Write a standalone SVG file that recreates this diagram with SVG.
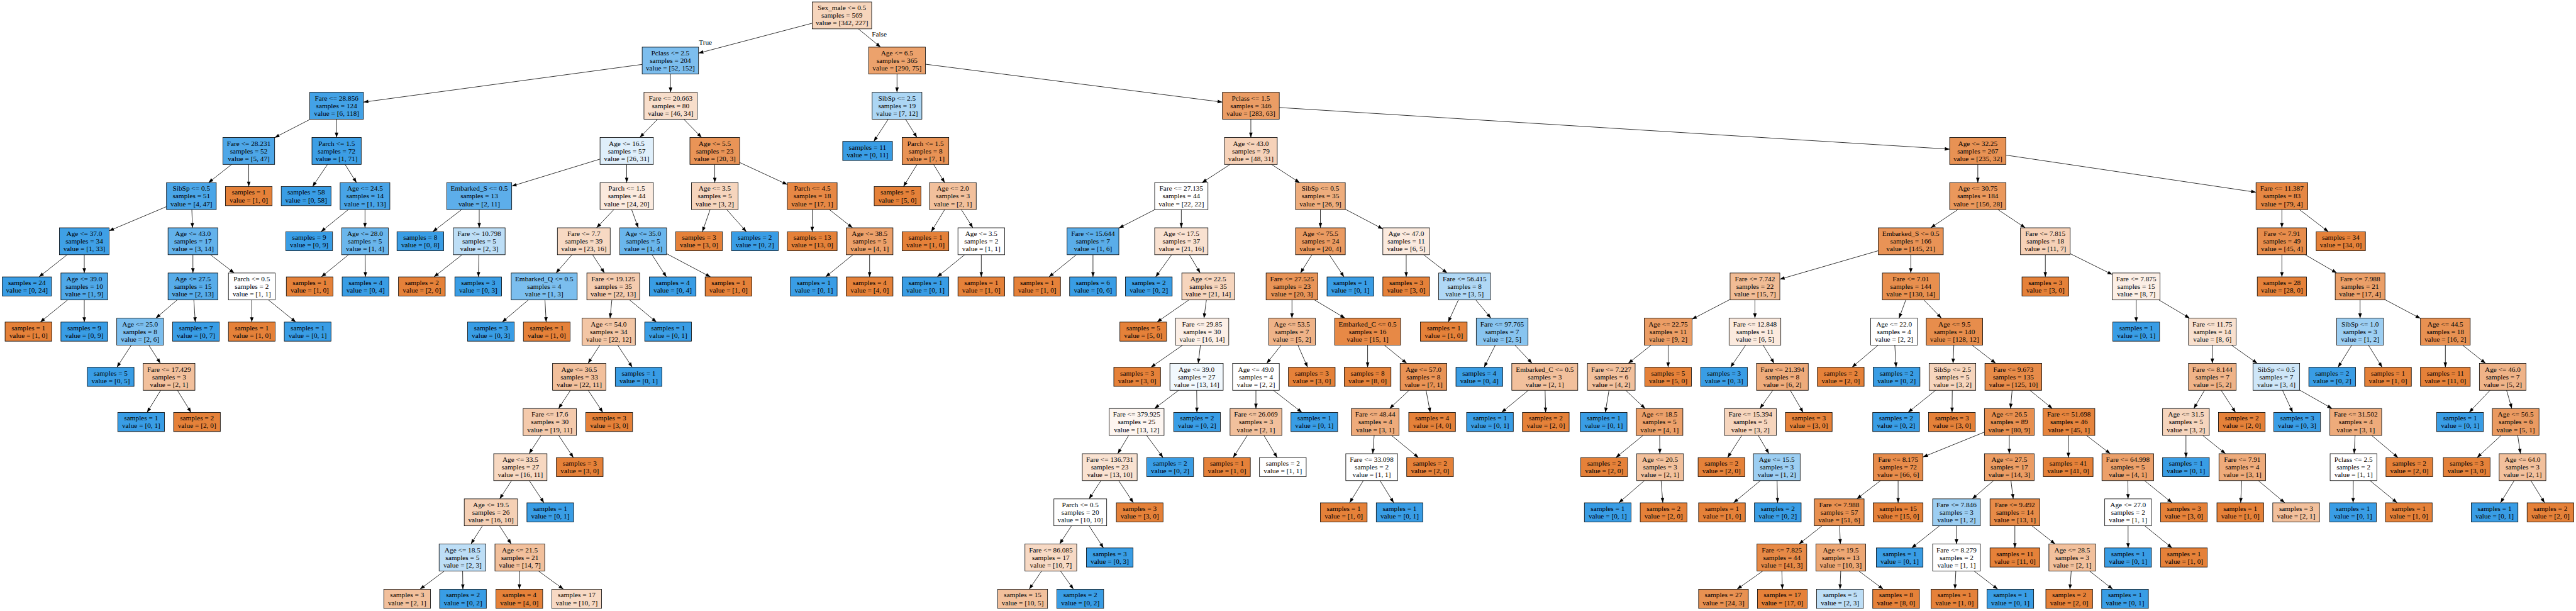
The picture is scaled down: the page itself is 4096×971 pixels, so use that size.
<svg xmlns="http://www.w3.org/2000/svg" width="4096" height="971" viewBox="0 0 4096 971">
<defs>
<marker id="ah" markerUnits="userSpaceOnUse" markerWidth="10" markerHeight="8" refX="9.5" refY="3.5" orient="auto" overflow="visible"><path d="M0,0 L9.5,3.5 L0,7 z" fill="#000"/></marker>
<style>
.nd rect{stroke:#000;stroke-width:1}
text{font-family:"Liberation Serif","Times New Roman",serif;font-size:14px;text-anchor:middle;fill:#000}
.o{fill:#e58139}.b{fill:#399de5}.w{fill:#ffffff}
#edges line{stroke:#000;stroke-width:1;marker-end:url(#ah)}
</style>
</defs>
<rect width="4096" height="971" fill="#fff"/>
<g transform="scale(0.8072)">
<g id="edges">
<line x1="1600" y1="45.7" x2="1376" y2="104.7"/>
<line x1="1690.8" y1="56.8" x2="1734.7" y2="92.8"/>
<line x1="1265" y1="126.8" x2="716" y2="201.1"/>
<line x1="1320.6" y1="145.8" x2="1321" y2="181.7"/>
<line x1="1767" y1="145.8" x2="1767" y2="181.7"/>
<line x1="1823" y1="126.4" x2="2408" y2="201.1"/>
<line x1="611.4" y1="234.7" x2="541" y2="270.9"/>
<line x1="663" y1="234.7" x2="663" y2="270.7"/>
<line x1="1295.2" y1="234.7" x2="1260.3" y2="270.7"/>
<line x1="1346.9" y1="234.7" x2="1382.1" y2="270.7"/>
<line x1="1749.7" y1="234.7" x2="1721.3" y2="278.4"/>
<line x1="1783.7" y1="234.7" x2="1806.3" y2="270.7"/>
<line x1="2464" y1="234.7" x2="2464" y2="270.7"/>
<line x1="2520" y1="211.7" x2="3840.5" y2="293.7"/>
<line x1="456.3" y1="323.7" x2="410.7" y2="359.6"/>
<line x1="490" y1="323.7" x2="490" y2="367.3"/>
<line x1="645.1" y1="323.7" x2="615.7" y2="367.3"/>
<line x1="679.7" y1="323.7" x2="702.3" y2="359.6"/>
<line x1="1182" y1="313.2" x2="1008" y2="366.5"/>
<line x1="1234.5" y1="323.7" x2="1234.5" y2="359.6"/>
<line x1="1408" y1="323.7" x2="1408" y2="359.6"/>
<line x1="1457" y1="319.9" x2="1551" y2="363.4"/>
<line x1="1806.6" y1="323.7" x2="1779.6" y2="367.3"/>
<line x1="1839.1" y1="323.7" x2="1860.9" y2="359.6"/>
<line x1="2423.2" y1="323.7" x2="2367.8" y2="359.6"/>
<line x1="2504.8" y1="323.7" x2="2560.2" y2="359.6"/>
<line x1="3896" y1="323.7" x2="3896" y2="359.6"/>
<line x1="3951.5" y1="305.4" x2="4444" y2="378.5"/>
<line x1="328" y1="406.8" x2="215" y2="454.4"/>
<line x1="377.9" y1="412.6" x2="379.1" y2="448.5"/>
<line x1="686.2" y1="412.6" x2="632.3" y2="456.2"/>
<line x1="719" y1="412.6" x2="719" y2="448.5"/>
<line x1="909.4" y1="412.6" x2="852.5" y2="456.2"/>
<line x1="944" y1="412.6" x2="944" y2="448.5"/>
<line x1="1209.3" y1="412.6" x2="1175.2" y2="448.5"/>
<line x1="1244.2" y1="412.6" x2="1257.3" y2="448.5"/>
<line x1="1398.8" y1="412.6" x2="1383.6" y2="456.2"/>
<line x1="1431.5" y1="412.6" x2="1470.3" y2="456.2"/>
<line x1="1600" y1="412.6" x2="1600" y2="456.2"/>
<line x1="1633.7" y1="412.6" x2="1679.3" y2="448.5"/>
<line x1="1860.9" y1="412.6" x2="1834.4" y2="456.2"/>
<line x1="1893.7" y1="412.6" x2="1916.3" y2="448.5"/>
<line x1="2275.1" y1="412.6" x2="2204" y2="449"/>
<line x1="2327" y1="412.6" x2="2327" y2="448.5"/>
<line x1="2601" y1="412.6" x2="2601" y2="448.5"/>
<line x1="2650" y1="411.9" x2="2724" y2="450.8"/>
<line x1="3856.7" y1="412.6" x2="3803.3" y2="448.5"/>
<line x1="3935.6" y1="412.6" x2="3989.4" y2="448.5"/>
<line x1="4495" y1="412.6" x2="4495" y2="448.5"/>
<line x1="4529.6" y1="412.6" x2="4586.5" y2="456.2"/>
<line x1="132.3" y1="501.5" x2="76.9" y2="545.2"/>
<line x1="166" y1="501.5" x2="166" y2="537.5"/>
<line x1="380" y1="501.5" x2="380" y2="537.5"/>
<line x1="414.6" y1="501.5" x2="461.4" y2="537.5"/>
<line x1="686.5" y1="501.5" x2="633" y2="545.2"/>
<line x1="719.3" y1="501.5" x2="719.8" y2="545.2"/>
<line x1="910.3" y1="501.5" x2="854.9" y2="545.2"/>
<line x1="943.4" y1="501.5" x2="942.4" y2="545.2"/>
<line x1="1126.8" y1="501.5" x2="1095.2" y2="537.5"/>
<line x1="1167.3" y1="501.5" x2="1190.7" y2="537.5"/>
<line x1="1284.3" y1="501.5" x2="1312.7" y2="545.2"/>
<line x1="1313" y1="499.4" x2="1399.5" y2="545.2"/>
<line x1="1680.2" y1="501.5" x2="1626.3" y2="545.2"/>
<line x1="1713" y1="501.5" x2="1713" y2="545.2"/>
<line x1="1900.2" y1="501.5" x2="1846.3" y2="545.2"/>
<line x1="1933" y1="501.5" x2="1933" y2="545.2"/>
<line x1="2120.2" y1="501.5" x2="2066.3" y2="545.2"/>
<line x1="2153" y1="501.5" x2="2153" y2="545.2"/>
<line x1="2307.9" y1="501.5" x2="2276.5" y2="545.2"/>
<line x1="2342.8" y1="501.5" x2="2364.2" y2="537.5"/>
<line x1="2584.3" y1="501.5" x2="2561.7" y2="537.5"/>
<line x1="2618.6" y1="501.5" x2="2647.5" y2="545.2"/>
<line x1="2770" y1="501.5" x2="2770" y2="545.2"/>
<line x1="2804.3" y1="501.5" x2="2850.7" y2="537.5"/>
<line x1="3700" y1="493.6" x2="3506" y2="549.8"/>
<line x1="3764" y1="501.5" x2="3764" y2="537.5"/>
<line x1="4029" y1="501.5" x2="4029" y2="545.2"/>
<line x1="4078" y1="499.4" x2="4161" y2="540.6"/>
<line x1="4495" y1="501.5" x2="4495" y2="545.2"/>
<line x1="4540.9" y1="501.5" x2="4603.1" y2="537.5"/>
<line x1="133.2" y1="590.5" x2="79.3" y2="634.1"/>
<line x1="166" y1="590.5" x2="166" y2="634.1"/>
<line x1="349" y1="590.5" x2="307" y2="626.4"/>
<line x1="381.8" y1="590.5" x2="384.7" y2="634.1"/>
<line x1="496" y1="590.5" x2="496" y2="634.1"/>
<line x1="528.8" y1="590.5" x2="582.7" y2="634.1"/>
<line x1="1040.7" y1="590.5" x2="989.2" y2="634.1"/>
<line x1="1073.5" y1="590.5" x2="1075.9" y2="634.1"/>
<line x1="1205.3" y1="590.5" x2="1201.7" y2="626.4"/>
<line x1="1240.2" y1="590.5" x2="1293.2" y2="634.1"/>
<line x1="2341.9" y1="590.5" x2="2279.1" y2="634.1"/>
<line x1="2376.4" y1="590.5" x2="2371.6" y2="626.4"/>
<line x1="2545" y1="590.5" x2="2545" y2="626.4"/>
<line x1="2589.4" y1="590.5" x2="2649.6" y2="626.4"/>
<line x1="2872.8" y1="590.5" x2="2852.7" y2="634.1"/>
<line x1="2907.1" y1="590.5" x2="2936.9" y2="626.4"/>
<line x1="3408" y1="589.5" x2="3333" y2="628.5"/>
<line x1="3457" y1="590.5" x2="3457" y2="626.4"/>
<line x1="3754.2" y1="590.5" x2="3740.8" y2="626.4"/>
<line x1="3789.6" y1="590.5" x2="3824.4" y2="626.4"/>
<line x1="4208" y1="590.5" x2="4208" y2="634.1"/>
<line x1="4252.7" y1="590.5" x2="4313.3" y2="626.4"/>
<line x1="4649" y1="590.5" x2="4649" y2="626.4"/>
<line x1="4698" y1="589.9" x2="4768" y2="627"/>
<line x1="258.7" y1="679.4" x2="230.3" y2="723.1"/>
<line x1="293" y1="679.4" x2="316" y2="715.4"/>
<line x1="1181.7" y1="679.4" x2="1158.3" y2="715.4"/>
<line x1="1216.6" y1="679.4" x2="1245.5" y2="723.1"/>
<line x1="2329.9" y1="679.4" x2="2267.1" y2="723.1"/>
<line x1="2364.7" y1="679.4" x2="2360.3" y2="715.4"/>
<line x1="2523.8" y1="679.4" x2="2495.2" y2="715.4"/>
<line x1="2556.6" y1="679.4" x2="2575.8" y2="723.1"/>
<line x1="2694" y1="679.4" x2="2694" y2="723.1"/>
<line x1="2726.8" y1="679.4" x2="2771.2" y2="715.4"/>
<line x1="2945.6" y1="679.4" x2="2923.5" y2="723.1"/>
<line x1="2984" y1="679.4" x2="3018" y2="715.4"/>
<line x1="3252.6" y1="679.4" x2="3207.4" y2="715.4"/>
<line x1="3286" y1="679.4" x2="3286" y2="723.1"/>
<line x1="3438.8" y1="679.4" x2="3408.9" y2="723.1"/>
<line x1="3473.1" y1="679.4" x2="3494.9" y2="715.4"/>
<line x1="3699.7" y1="679.4" x2="3648.2" y2="723.1"/>
<line x1="3732.5" y1="679.4" x2="3735" y2="723.1"/>
<line x1="3848.8" y1="679.4" x2="3847.2" y2="715.4"/>
<line x1="3884.6" y1="679.4" x2="3931.4" y2="715.4"/>
<line x1="4358" y1="679.4" x2="4358" y2="715.4"/>
<line x1="4395.5" y1="679.4" x2="4446.5" y2="715.4"/>
<line x1="4632.6" y1="679.4" x2="4605.6" y2="723.1"/>
<line x1="4665.4" y1="679.4" x2="4692.4" y2="723.1"/>
<line x1="4817" y1="679.4" x2="4817" y2="723.1"/>
<line x1="4850.7" y1="679.4" x2="4896.3" y2="715.4"/>
<line x1="316.6" y1="768.4" x2="289.6" y2="812"/>
<line x1="349.4" y1="768.4" x2="376.4" y2="812"/>
<line x1="1123.7" y1="768.4" x2="1100.3" y2="804.3"/>
<line x1="1158.6" y1="768.4" x2="1187.5" y2="812"/>
<line x1="2321.8" y1="768.4" x2="2274.2" y2="804.3"/>
<line x1="2357.3" y1="768.4" x2="2357.8" y2="812"/>
<line x1="2474" y1="768.4" x2="2474" y2="804.3"/>
<line x1="2508.3" y1="768.4" x2="2564.7" y2="812"/>
<line x1="2775.7" y1="768.4" x2="2737.3" y2="804.3"/>
<line x1="2809.1" y1="768.4" x2="2817.4" y2="812"/>
<line x1="3010.8" y1="768.4" x2="2957.8" y2="812"/>
<line x1="3043.6" y1="768.4" x2="3044.6" y2="812"/>
<line x1="3169.5" y1="768.4" x2="3162.2" y2="812"/>
<line x1="3202.3" y1="768.4" x2="3240.7" y2="804.3"/>
<line x1="3492.2" y1="768.4" x2="3466.8" y2="804.3"/>
<line x1="3526.5" y1="768.4" x2="3552" y2="812"/>
<line x1="3812.9" y1="768.4" x2="3758.5" y2="812"/>
<line x1="3845.7" y1="768.4" x2="3845.2" y2="812"/>
<line x1="3963.6" y1="768.4" x2="3960.4" y2="804.3"/>
<line x1="3998.6" y1="768.4" x2="4042.9" y2="804.3"/>
<line x1="4342.5" y1="768.4" x2="4321.5" y2="804.3"/>
<line x1="4375.3" y1="768.4" x2="4403.7" y2="812"/>
<line x1="4496.2" y1="768.4" x2="4516.3" y2="812"/>
<line x1="4530" y1="768" x2="4593.9" y2="804.3"/>
<line x1="4905" y1="768.4" x2="4863.8" y2="812"/>
<line x1="4937.6" y1="768.4" x2="4947.9" y2="804.3"/>
<line x1="1065.7" y1="857.3" x2="1042.3" y2="893.2"/>
<line x1="1100.6" y1="857.3" x2="1129.5" y2="900.9"/>
<line x1="2223.2" y1="857.3" x2="2201.8" y2="893.2"/>
<line x1="2258.7" y1="857.3" x2="2291" y2="900.9"/>
<line x1="2457" y1="857.3" x2="2429.1" y2="900.9"/>
<line x1="2489.8" y1="857.3" x2="2515.8" y2="900.9"/>
<line x1="2706.9" y1="857.3" x2="2704.1" y2="893.2"/>
<line x1="2741.2" y1="857.3" x2="2794.2" y2="900.9"/>
<line x1="3236.5" y1="857.3" x2="3183" y2="900.9"/>
<line x1="3269.3" y1="857.3" x2="3269.7" y2="893.2"/>
<line x1="3431" y1="857.3" x2="3403.1" y2="900.9"/>
<line x1="3463.5" y1="857.3" x2="3484.5" y2="893.2"/>
<line x1="3909" y1="850.7" x2="3788" y2="899.8"/>
<line x1="3958" y1="857.3" x2="3958" y2="893.2"/>
<line x1="4075" y1="857.3" x2="4074.3" y2="900.9"/>
<line x1="4110.1" y1="857.3" x2="4156.9" y2="893.2"/>
<line x1="4306" y1="857.3" x2="4306" y2="900.9"/>
<line x1="4339.1" y1="857.3" x2="4383.9" y2="893.2"/>
<line x1="4639.2" y1="857.3" x2="4637.3" y2="893.2"/>
<line x1="4671.9" y1="857.3" x2="4723.7" y2="900.9"/>
<line x1="4926.7" y1="857.3" x2="4879.4" y2="900.9"/>
<line x1="4959.5" y1="857.3" x2="4965" y2="893.2"/>
<line x1="1007.7" y1="946.2" x2="984.3" y2="982.2"/>
<line x1="1042.6" y1="946.2" x2="1071.5" y2="989.9"/>
<line x1="2168.7" y1="946.2" x2="2145.3" y2="982.2"/>
<line x1="2203.6" y1="946.2" x2="2232.5" y2="989.9"/>
<line x1="2685.6" y1="946.2" x2="2658.6" y2="989.9"/>
<line x1="2718.4" y1="946.2" x2="2745.4" y2="989.9"/>
<line x1="3239.3" y1="946.2" x2="3188.8" y2="989.9"/>
<line x1="3272.1" y1="946.2" x2="3275.5" y2="989.9"/>
<line x1="3467.8" y1="946.2" x2="3414.8" y2="989.9"/>
<line x1="3500.6" y1="946.2" x2="3501.6" y2="989.9"/>
<line x1="3704.4" y1="946.2" x2="3657.6" y2="982.2"/>
<line x1="3739" y1="946.2" x2="3739" y2="989.9"/>
<line x1="3927" y1="946.2" x2="3885" y2="982.2"/>
<line x1="3961.3" y1="946.2" x2="3965.7" y2="982.2"/>
<line x1="4191.6" y1="946.2" x2="4191.9" y2="982.2"/>
<line x1="4224.4" y1="946.2" x2="4278.6" y2="989.9"/>
<line x1="4415.8" y1="946.2" x2="4413.8" y2="989.9"/>
<line x1="4448.6" y1="946.2" x2="4500.6" y2="989.9"/>
<line x1="4635.7" y1="946.2" x2="4635.2" y2="989.9"/>
<line x1="4668.5" y1="946.2" x2="4722" y2="989.9"/>
<line x1="4952.6" y1="946.2" x2="4925.6" y2="989.9"/>
<line x1="4985.4" y1="946.2" x2="5012.4" y2="989.9"/>
<line x1="950.3" y1="1035.2" x2="927.7" y2="1071.1"/>
<line x1="984" y1="1035.2" x2="1007" y2="1071.1"/>
<line x1="2110.7" y1="1035.2" x2="2087.3" y2="1071.1"/>
<line x1="2145.3" y1="1035.2" x2="2173.7" y2="1078.8"/>
<line x1="3589.3" y1="1035.2" x2="3543.7" y2="1071.1"/>
<line x1="3623.9" y1="1035.2" x2="3625.1" y2="1071.1"/>
<line x1="3820.6" y1="1035.2" x2="3765.7" y2="1078.8"/>
<line x1="3854" y1="1035.2" x2="3854" y2="1071.1"/>
<line x1="3969" y1="1035.2" x2="3969" y2="1078.8"/>
<line x1="4002.7" y1="1035.2" x2="4048.3" y2="1071.1"/>
<line x1="4192" y1="1035.2" x2="4192" y2="1078.8"/>
<line x1="4224.8" y1="1035.2" x2="4278.7" y2="1078.8"/>
<line x1="875.5" y1="1124.1" x2="827.4" y2="1160"/>
<line x1="911.3" y1="1124.1" x2="911.8" y2="1160"/>
<line x1="1024" y1="1124.1" x2="1023" y2="1160"/>
<line x1="1060.5" y1="1124.1" x2="1109.9" y2="1160"/>
<line x1="2051.9" y1="1124.1" x2="2027.5" y2="1160"/>
<line x1="2088.9" y1="1124.1" x2="2114.5" y2="1160"/>
<line x1="3472.6" y1="1124.1" x2="3421.8" y2="1160"/>
<line x1="3510" y1="1124.1" x2="3511" y2="1160"/>
<line x1="3626" y1="1124.1" x2="3624.5" y2="1160"/>
<line x1="3661.5" y1="1124.1" x2="3709.6" y2="1160"/>
<line x1="3852.7" y1="1124.1" x2="3850.9" y2="1160"/>
<line x1="3888.5" y1="1124.1" x2="3935.3" y2="1160"/>
<line x1="4080" y1="1124.1" x2="4077.4" y2="1160"/>
<line x1="4115.9" y1="1124.1" x2="4161.7" y2="1160"/>
<text x="1389.5" y="87.5">True</text>
<text x="1732" y="72">False</text>
</g>
<g id="n0" class="nd"><rect x="1600" y="3.8" width="117" height="53" fill="#f6d5bc"/><text x="1658.5" y="20">Sex_male &lt;= 0.5<tspan x="1658.5" dy="15">samples = 569</tspan><tspan x="1658.5" dy="15">value = [342, 227]</tspan></text></g>
<g id="n1" class="nd"><rect x="1265" y="92.8" width="111" height="53" fill="#7dbeee"/><text x="1320.5" y="109">Pclass &lt;= 2.5<tspan x="1320.5" dy="15">samples = 204</tspan><tspan x="1320.5" dy="15">value = [52, 152]</tspan></text></g>
<g id="n2" class="nd"><rect x="1711" y="92.8" width="112" height="53" fill="#eca26c"/><text x="1767" y="109">Age &lt;= 6.5<tspan x="1767" dy="15">samples = 365</tspan><tspan x="1767" dy="15">value = [290, 75]</tspan></text></g>
<g id="n3" class="nd"><rect x="610" y="181.7" width="106" height="53" fill="#43a2e6"/><text x="663" y="197.9">Fare &lt;= 28.856<tspan x="663" dy="15">samples = 124</tspan><tspan x="663" dy="15">value = [6, 118]</tspan></text></g>
<g id="n4" class="nd"><rect x="1268.5" y="181.7" width="105" height="53" fill="#f8decb"/><text x="1321" y="197.9">Fare &lt;= 20.663<tspan x="1321" dy="15">samples = 80</tspan><tspan x="1321" dy="15">value = [46, 34]</tspan></text></g>
<g id="n5" class="nd"><rect x="1718" y="181.7" width="98" height="53" fill="#acd6f4"/><text x="1767" y="197.9">SibSp &lt;= 2.5<tspan x="1767" dy="15">samples = 19</tspan><tspan x="1767" dy="15">value = [7, 12]</tspan></text></g>
<g id="n6" class="nd"><rect x="2408" y="181.7" width="112" height="53" fill="#eb9d65"/><text x="2464" y="197.9">Pclass &lt;= 1.5<tspan x="2464" dy="15">samples = 346</tspan><tspan x="2464" dy="15">value = [283, 63]</tspan></text></g>
<g id="n7" class="nd"><rect x="439" y="270.7" width="102" height="53" fill="#4ea7e8"/><text x="490" y="286.9">Fare &lt;= 28.231<tspan x="490" dy="15">samples = 52</tspan><tspan x="490" dy="15">value = [5, 47]</tspan></text></g>
<g id="n8" class="nd"><rect x="614.5" y="270.7" width="97" height="53" fill="#3c9ee5"/><text x="663" y="286.9">Parch &lt;= 1.5<tspan x="663" dy="15">samples = 72</tspan><tspan x="663" dy="15">value = [1, 71]</tspan></text></g>
<g id="n9" class="nd"><rect x="1182" y="270.7" width="105" height="53" fill="#dfeffb"/><text x="1234.5" y="286.9">Age &lt;= 16.5<tspan x="1234.5" dy="15">samples = 57</tspan><tspan x="1234.5" dy="15">value = [26, 31]</tspan></text></g>
<g id="n10" class="nd"><rect x="1359" y="270.7" width="98" height="53" fill="#e99457"/><text x="1408" y="286.9">Age &lt;= 5.5<tspan x="1408" dy="15">samples = 23</tspan><tspan x="1408" dy="15">value = [20, 3]</tspan></text></g>
<g id="n11" class="nd"><rect x="1660" y="278.4" width="98" height="37.6" class="b"/><text x="1709" y="294.4">samples = 11<tspan x="1709" dy="15">value = [0, 11]</tspan></text></g>
<g id="n12" class="nd"><rect x="1777" y="270.7" width="92" height="53" fill="#e99355"/><text x="1823" y="286.9">Parch &lt;= 1.5<tspan x="1823" dy="15">samples = 8</tspan><tspan x="1823" dy="15">value = [7, 1]</tspan></text></g>
<g id="n13" class="nd"><rect x="2412" y="270.7" width="104" height="53" fill="#f6d2b9"/><text x="2464" y="286.9">Age &lt;= 43.0<tspan x="2464" dy="15">samples = 79</tspan><tspan x="2464" dy="15">value = [48, 31]</tspan></text></g>
<g id="n14" class="nd"><rect x="3840.5" y="270.7" width="111" height="53" fill="#e89254"/><text x="3896" y="286.9">Age &lt;= 32.25<tspan x="3896" dy="15">samples = 267</tspan><tspan x="3896" dy="15">value = [235, 32]</tspan></text></g>
<g id="n15" class="nd"><rect x="328" y="359.6" width="98" height="53" fill="#4aa5e7"/><text x="377" y="375.8">SibSp &lt;= 0.5<tspan x="377" dy="15">samples = 51</tspan><tspan x="377" dy="15">value = [4, 47]</tspan></text></g>
<g id="n16" class="nd"><rect x="444" y="367.3" width="92" height="37.6" class="o"/><text x="490" y="383.3">samples = 1<tspan x="490" dy="15">value = [1, 0]</tspan></text></g>
<g id="n17" class="nd"><rect x="554" y="367.3" width="98" height="37.6" class="b"/><text x="603" y="383.3">samples = 58<tspan x="603" dy="15">value = [0, 58]</tspan></text></g>
<g id="n18" class="nd"><rect x="670" y="359.6" width="98" height="53" fill="#48a4e7"/><text x="719" y="375.8">Age &lt;= 24.5<tspan x="719" dy="15">samples = 14</tspan><tspan x="719" dy="15">value = [1, 13]</tspan></text></g>
<g id="n19" class="nd"><rect x="880" y="359.6" width="128" height="53" fill="#5daeea"/><text x="944" y="375.8">Embarked_S &lt;= 0.5<tspan x="944" dy="15">samples = 13</tspan><tspan x="944" dy="15">value = [2, 11]</tspan></text></g>
<g id="n20" class="nd"><rect x="1182" y="359.6" width="105" height="53" fill="#fbeade"/><text x="1234.5" y="375.8">Parch &lt;= 1.5<tspan x="1234.5" dy="15">samples = 44</tspan><tspan x="1234.5" dy="15">value = [24, 20]</tspan></text></g>
<g id="n21" class="nd"><rect x="1362" y="359.6" width="92" height="53" fill="#f6d5bd"/><text x="1408" y="375.8">Age &lt;= 3.5<tspan x="1408" dy="15">samples = 5</tspan><tspan x="1408" dy="15">value = [3, 2]</tspan></text></g>
<g id="n22" class="nd"><rect x="1551" y="359.6" width="98" height="53" fill="#e78845"/><text x="1600" y="375.8">Parch &lt;= 4.5<tspan x="1600" dy="15">samples = 18</tspan><tspan x="1600" dy="15">value = [17, 1]</tspan></text></g>
<g id="n23" class="nd"><rect x="1722" y="367.3" width="92" height="37.6" class="o"/><text x="1768" y="383.3">samples = 5<tspan x="1768" dy="15">value = [5, 0]</tspan></text></g>
<g id="n24" class="nd"><rect x="1831" y="359.6" width="92" height="53" fill="#f2c09c"/><text x="1877" y="375.8">Age &lt;= 2.0<tspan x="1877" dy="15">samples = 3</tspan><tspan x="1877" dy="15">value = [2, 1]</tspan></text></g>
<g id="n25" class="nd"><rect x="2274.5" y="359.6" width="105" height="53" class="w"/><text x="2327" y="375.8">Fare &lt;= 27.135<tspan x="2327" dy="15">samples = 44</tspan><tspan x="2327" dy="15">value = [22, 22]</tspan></text></g>
<g id="n26" class="nd"><rect x="2552" y="359.6" width="98" height="53" fill="#eead7d"/><text x="2601" y="375.8">SibSp &lt;= 0.5<tspan x="2601" dy="15">samples = 35</tspan><tspan x="2601" dy="15">value = [26, 9]</tspan></text></g>
<g id="n27" class="nd"><rect x="3840.5" y="359.6" width="111" height="53" fill="#ea985c"/><text x="3896" y="375.8">Age &lt;= 30.75<tspan x="3896" dy="15">samples = 184</tspan><tspan x="3896" dy="15">value = [156, 28]</tspan></text></g>
<g id="n28" class="nd"><rect x="4444" y="359.6" width="102" height="53" fill="#e68743"/><text x="4495" y="375.8">Fare &lt;= 11.387<tspan x="4495" dy="15">samples = 83</tspan><tspan x="4495" dy="15">value = [79, 4]</tspan></text></g>
<g id="n29" class="nd"><rect x="117" y="448.5" width="98" height="53" fill="#3fa0e6"/><text x="166" y="464.7">Age &lt;= 37.0<tspan x="166" dy="15">samples = 34</tspan><tspan x="166" dy="15">value = [1, 33]</tspan></text></g>
<g id="n30" class="nd"><rect x="331" y="448.5" width="98" height="53" fill="#63b2eb"/><text x="380" y="464.7">Age &lt;= 43.0<tspan x="380" dy="15">samples = 17</tspan><tspan x="380" dy="15">value = [3, 14]</tspan></text></g>
<g id="n31" class="nd"><rect x="563" y="456.2" width="92" height="37.6" class="b"/><text x="609" y="472.2">samples = 9<tspan x="609" dy="15">value = [0, 9]</tspan></text></g>
<g id="n32" class="nd"><rect x="673" y="448.5" width="92" height="53" fill="#6ab6ec"/><text x="719" y="464.7">Age &lt;= 28.0<tspan x="719" dy="15">samples = 5</tspan><tspan x="719" dy="15">value = [1, 4]</tspan></text></g>
<g id="n33" class="nd"><rect x="782" y="456.2" width="92" height="37.6" class="b"/><text x="828" y="472.2">samples = 8<tspan x="828" dy="15">value = [0, 8]</tspan></text></g>
<g id="n34" class="nd"><rect x="893" y="448.5" width="102" height="53" fill="#bddef6"/><text x="944" y="464.7">Fare &lt;= 10.798<tspan x="944" dy="15">samples = 5</tspan><tspan x="944" dy="15">value = [2, 3]</tspan></text></g>
<g id="n35" class="nd"><rect x="1098" y="448.5" width="104" height="53" fill="#f7d9c3"/><text x="1150" y="464.7">Fare &lt;= 7.7<tspan x="1150" dy="15">samples = 39</tspan><tspan x="1150" dy="15">value = [23, 16]</tspan></text></g>
<g id="n36" class="nd"><rect x="1221" y="448.5" width="92" height="53" fill="#6ab6ec"/><text x="1267" y="464.7">Age &lt;= 35.0<tspan x="1267" dy="15">samples = 5</tspan><tspan x="1267" dy="15">value = [1, 4]</tspan></text></g>
<g id="n37" class="nd"><rect x="1331" y="456.2" width="92" height="37.6" class="o"/><text x="1377" y="472.2">samples = 3<tspan x="1377" dy="15">value = [3, 0]</tspan></text></g>
<g id="n38" class="nd"><rect x="1441" y="456.2" width="92" height="37.6" class="b"/><text x="1487" y="472.2">samples = 2<tspan x="1487" dy="15">value = [0, 2]</tspan></text></g>
<g id="n39" class="nd"><rect x="1551" y="456.2" width="98" height="37.6" class="o"/><text x="1600" y="472.2">samples = 13<tspan x="1600" dy="15">value = [13, 0]</tspan></text></g>
<g id="n40" class="nd"><rect x="1667" y="448.5" width="92" height="53" fill="#eca06a"/><text x="1713" y="464.7">Age &lt;= 38.5<tspan x="1713" dy="15">samples = 5</tspan><tspan x="1713" dy="15">value = [4, 1]</tspan></text></g>
<g id="n41" class="nd"><rect x="1777" y="456.2" width="92" height="37.6" class="o"/><text x="1823" y="472.2">samples = 1<tspan x="1823" dy="15">value = [1, 0]</tspan></text></g>
<g id="n42" class="nd"><rect x="1887" y="448.5" width="92" height="53" class="w"/><text x="1933" y="464.7">Age &lt;= 3.5<tspan x="1933" dy="15">samples = 2</tspan><tspan x="1933" dy="15">value = [1, 1]</tspan></text></g>
<g id="n43" class="nd"><rect x="2102" y="448.5" width="102" height="53" fill="#5aade9"/><text x="2153" y="464.7">Fare &lt;= 15.644<tspan x="2153" dy="15">samples = 7</tspan><tspan x="2153" dy="15">value = [1, 6]</tspan></text></g>
<g id="n44" class="nd"><rect x="2274.5" y="448.5" width="105" height="53" fill="#f9e1d0"/><text x="2327" y="464.7">Age &lt;= 17.5<tspan x="2327" dy="15">samples = 37</tspan><tspan x="2327" dy="15">value = [21, 16]</tspan></text></g>
<g id="n45" class="nd"><rect x="2552" y="448.5" width="98" height="53" fill="#ea9a61"/><text x="2601" y="464.7">Age &lt;= 75.5<tspan x="2601" dy="15">samples = 24</tspan><tspan x="2601" dy="15">value = [20, 4]</tspan></text></g>
<g id="n46" class="nd"><rect x="2724" y="448.5" width="92" height="53" fill="#fbeade"/><text x="2770" y="464.7">Age &lt;= 47.0<tspan x="2770" dy="15">samples = 11</tspan><tspan x="2770" dy="15">value = [6, 5]</tspan></text></g>
<g id="n47" class="nd"><rect x="3700" y="448.5" width="128" height="53" fill="#e99356"/><text x="3764" y="464.7">Embarked_S &lt;= 0.5<tspan x="3764" dy="15">samples = 166</tspan><tspan x="3764" dy="15">value = [145, 21]</tspan></text></g>
<g id="n48" class="nd"><rect x="3980" y="448.5" width="98" height="53" fill="#f6d1b7"/><text x="4029" y="464.7">Fare &lt;= 7.815<tspan x="4029" dy="15">samples = 18</tspan><tspan x="4029" dy="15">value = [11, 7]</tspan></text></g>
<g id="n49" class="nd"><rect x="4446.5" y="448.5" width="97" height="53" fill="#e78c4b"/><text x="4495" y="464.7">Fare &lt;= 7.91<tspan x="4495" dy="15">samples = 49</tspan><tspan x="4495" dy="15">value = [45, 4]</tspan></text></g>
<g id="n50" class="nd"><rect x="4562.5" y="456.2" width="97" height="37.6" class="o"/><text x="4611" y="472.2">samples = 34<tspan x="4611" dy="15">value = [34, 0]</tspan></text></g>
<g id="n51" class="nd"><rect x="4.5" y="545.2" width="97" height="37.6" class="b"/><text x="53" y="561.2">samples = 24<tspan x="53" dy="15">value = [0, 24]</tspan></text></g>
<g id="n52" class="nd"><rect x="120" y="537.5" width="92" height="53" fill="#4fa8e8"/><text x="166" y="553.7">Age &lt;= 39.0<tspan x="166" dy="15">samples = 10</tspan><tspan x="166" dy="15">value = [1, 9]</tspan></text></g>
<g id="n53" class="nd"><rect x="331" y="537.5" width="98" height="53" fill="#57ace9"/><text x="380" y="553.7">Age &lt;= 27.5<tspan x="380" dy="15">samples = 15</tspan><tspan x="380" dy="15">value = [2, 13]</tspan></text></g>
<g id="n54" class="nd"><rect x="450" y="537.5" width="92" height="53" class="w"/><text x="496" y="553.7">Parch &lt;= 0.5<tspan x="496" dy="15">samples = 2</tspan><tspan x="496" dy="15">value = [1, 1]</tspan></text></g>
<g id="n55" class="nd"><rect x="564" y="545.2" width="92" height="37.6" class="o"/><text x="610" y="561.2">samples = 1<tspan x="610" dy="15">value = [1, 0]</tspan></text></g>
<g id="n56" class="nd"><rect x="674" y="545.2" width="92" height="37.6" class="b"/><text x="720" y="561.2">samples = 4<tspan x="720" dy="15">value = [0, 4]</tspan></text></g>
<g id="n57" class="nd"><rect x="785" y="545.2" width="92" height="37.6" class="o"/><text x="831" y="561.2">samples = 2<tspan x="831" dy="15">value = [2, 0]</tspan></text></g>
<g id="n58" class="nd"><rect x="896" y="545.2" width="92" height="37.6" class="b"/><text x="942" y="561.2">samples = 3<tspan x="942" dy="15">value = [0, 3]</tspan></text></g>
<g id="n59" class="nd"><rect x="1007" y="537.5" width="130" height="53" fill="#7bbeee"/><text x="1072" y="553.7">Embarked_Q &lt;= 0.5<tspan x="1072" dy="15">samples = 4</tspan><tspan x="1072" dy="15">value = [1, 3]</tspan></text></g>
<g id="n60" class="nd"><rect x="1156" y="537.5" width="104" height="53" fill="#f4cbae"/><text x="1208" y="553.7">Fare &lt;= 19.125<tspan x="1208" dy="15">samples = 35</tspan><tspan x="1208" dy="15">value = [22, 13]</tspan></text></g>
<g id="n61" class="nd"><rect x="1279" y="545.2" width="92" height="37.6" class="b"/><text x="1325" y="561.2">samples = 4<tspan x="1325" dy="15">value = [0, 4]</tspan></text></g>
<g id="n62" class="nd"><rect x="1389" y="545.2" width="92" height="37.6" class="o"/><text x="1435" y="561.2">samples = 1<tspan x="1435" dy="15">value = [1, 0]</tspan></text></g>
<g id="n63" class="nd"><rect x="1557" y="545.2" width="92" height="37.6" class="b"/><text x="1603" y="561.2">samples = 1<tspan x="1603" dy="15">value = [0, 1]</tspan></text></g>
<g id="n64" class="nd"><rect x="1667" y="545.2" width="92" height="37.6" class="o"/><text x="1713" y="561.2">samples = 4<tspan x="1713" dy="15">value = [4, 0]</tspan></text></g>
<g id="n65" class="nd"><rect x="1777" y="545.2" width="92" height="37.6" class="b"/><text x="1823" y="561.2">samples = 1<tspan x="1823" dy="15">value = [0, 1]</tspan></text></g>
<g id="n66" class="nd"><rect x="1887" y="545.2" width="92" height="37.6" class="o"/><text x="1933" y="561.2">samples = 1<tspan x="1933" dy="15">value = [1, 0]</tspan></text></g>
<g id="n67" class="nd"><rect x="1997" y="545.2" width="92" height="37.6" class="o"/><text x="2043" y="561.2">samples = 1<tspan x="2043" dy="15">value = [1, 0]</tspan></text></g>
<g id="n68" class="nd"><rect x="2107" y="545.2" width="92" height="37.6" class="b"/><text x="2153" y="561.2">samples = 6<tspan x="2153" dy="15">value = [0, 6]</tspan></text></g>
<g id="n69" class="nd"><rect x="2217" y="545.2" width="92" height="37.6" class="b"/><text x="2263" y="561.2">samples = 2<tspan x="2263" dy="15">value = [0, 2]</tspan></text></g>
<g id="n70" class="nd"><rect x="2328" y="537.5" width="104" height="53" fill="#f6d5bd"/><text x="2380" y="553.7">Age &lt;= 22.5<tspan x="2380" dy="15">samples = 35</tspan><tspan x="2380" dy="15">value = [21, 14]</tspan></text></g>
<g id="n71" class="nd"><rect x="2494" y="537.5" width="102" height="53" fill="#e99457"/><text x="2545" y="553.7">Fare &lt;= 27.525<tspan x="2545" dy="15">samples = 23</tspan><tspan x="2545" dy="15">value = [20, 3]</tspan></text></g>
<g id="n72" class="nd"><rect x="2614" y="545.2" width="92" height="37.6" class="b"/><text x="2660" y="561.2">samples = 1<tspan x="2660" dy="15">value = [0, 1]</tspan></text></g>
<g id="n73" class="nd"><rect x="2724" y="545.2" width="92" height="37.6" class="o"/><text x="2770" y="561.2">samples = 3<tspan x="2770" dy="15">value = [3, 0]</tspan></text></g>
<g id="n74" class="nd"><rect x="2834" y="537.5" width="102" height="53" fill="#b0d8f5"/><text x="2885" y="553.7">Fare &lt;= 56.415<tspan x="2885" dy="15">samples = 8</tspan><tspan x="2885" dy="15">value = [3, 5]</tspan></text></g>
<g id="n75" class="nd"><rect x="3408" y="537.5" width="98" height="53" fill="#f1bc95"/><text x="3457" y="553.7">Fare &lt;= 7.742<tspan x="3457" dy="15">samples = 22</tspan><tspan x="3457" dy="15">value = [15, 7]</tspan></text></g>
<g id="n76" class="nd"><rect x="3708" y="537.5" width="112" height="53" fill="#e88f4e"/><text x="3764" y="553.7">Fare &lt;= 7.01<tspan x="3764" dy="15">samples = 144</tspan><tspan x="3764" dy="15">value = [130, 14]</tspan></text></g>
<g id="n77" class="nd"><rect x="3983" y="545.2" width="92" height="37.6" class="o"/><text x="4029" y="561.2">samples = 3<tspan x="4029" dy="15">value = [3, 0]</tspan></text></g>
<g id="n78" class="nd"><rect x="4161" y="537.5" width="94" height="53" fill="#fcefe6"/><text x="4208" y="553.7">Fare &lt;= 7.875<tspan x="4208" dy="15">samples = 15</tspan><tspan x="4208" dy="15">value = [8, 7]</tspan></text></g>
<g id="n79" class="nd"><rect x="4446.5" y="545.2" width="97" height="37.6" class="o"/><text x="4495" y="561.2">samples = 28<tspan x="4495" dy="15">value = [28, 0]</tspan></text></g>
<g id="n80" class="nd"><rect x="4600" y="537.5" width="98" height="53" fill="#eb9f68"/><text x="4649" y="553.7">Fare &lt;= 7.988<tspan x="4649" dy="15">samples = 21</tspan><tspan x="4649" dy="15">value = [17, 4]</tspan></text></g>
<g id="n81" class="nd"><rect x="10" y="634.1" width="92" height="37.6" class="o"/><text x="56" y="650.1">samples = 1<tspan x="56" dy="15">value = [1, 0]</tspan></text></g>
<g id="n82" class="nd"><rect x="120" y="634.1" width="92" height="37.6" class="b"/><text x="166" y="650.1">samples = 9<tspan x="166" dy="15">value = [0, 9]</tspan></text></g>
<g id="n83" class="nd"><rect x="230" y="626.4" width="92" height="53" fill="#7bbeee"/><text x="276" y="642.6">Age &lt;= 25.0<tspan x="276" dy="15">samples = 8</tspan><tspan x="276" dy="15">value = [2, 6]</tspan></text></g>
<g id="n84" class="nd"><rect x="340" y="634.1" width="92" height="37.6" class="b"/><text x="386" y="650.1">samples = 7<tspan x="386" dy="15">value = [0, 7]</tspan></text></g>
<g id="n85" class="nd"><rect x="450" y="634.1" width="92" height="37.6" class="o"/><text x="496" y="650.1">samples = 1<tspan x="496" dy="15">value = [1, 0]</tspan></text></g>
<g id="n86" class="nd"><rect x="560" y="634.1" width="92" height="37.6" class="b"/><text x="606" y="650.1">samples = 1<tspan x="606" dy="15">value = [0, 1]</tspan></text></g>
<g id="n87" class="nd"><rect x="921" y="634.1" width="92" height="37.6" class="b"/><text x="967" y="650.1">samples = 3<tspan x="967" dy="15">value = [0, 3]</tspan></text></g>
<g id="n88" class="nd"><rect x="1031" y="634.1" width="92" height="37.6" class="o"/><text x="1077" y="650.1">samples = 1<tspan x="1077" dy="15">value = [1, 0]</tspan></text></g>
<g id="n89" class="nd"><rect x="1146.5" y="626.4" width="105" height="53" fill="#f3c6a5"/><text x="1199" y="642.6">Age &lt;= 54.0<tspan x="1199" dy="15">samples = 34</tspan><tspan x="1199" dy="15">value = [22, 12]</tspan></text></g>
<g id="n90" class="nd"><rect x="1270" y="634.1" width="92" height="37.6" class="b"/><text x="1316" y="650.1">samples = 1<tspan x="1316" dy="15">value = [0, 1]</tspan></text></g>
<g id="n91" class="nd"><rect x="2206" y="634.1" width="92" height="37.6" class="o"/><text x="2252" y="650.1">samples = 5<tspan x="2252" dy="15">value = [5, 0]</tspan></text></g>
<g id="n92" class="nd"><rect x="2315.5" y="626.4" width="105" height="53" fill="#fcefe6"/><text x="2368" y="642.6">Fare &lt;= 29.85<tspan x="2368" dy="15">samples = 30</tspan><tspan x="2368" dy="15">value = [16, 14]</tspan></text></g>
<g id="n93" class="nd"><rect x="2499" y="626.4" width="92" height="53" fill="#efb388"/><text x="2545" y="642.6">Age &lt;= 53.5<tspan x="2545" dy="15">samples = 7</tspan><tspan x="2545" dy="15">value = [5, 2]</tspan></text></g>
<g id="n94" class="nd"><rect x="2629" y="626.4" width="130" height="53" fill="#e78946"/><text x="2694" y="642.6">Embarked_C &lt;= 0.5<tspan x="2694" dy="15">samples = 16</tspan><tspan x="2694" dy="15">value = [15, 1]</tspan></text></g>
<g id="n95" class="nd"><rect x="2798" y="634.1" width="92" height="37.6" class="o"/><text x="2844" y="650.1">samples = 1<tspan x="2844" dy="15">value = [1, 0]</tspan></text></g>
<g id="n96" class="nd"><rect x="2908" y="626.4" width="102" height="53" fill="#88c4ef"/><text x="2959" y="642.6">Fare &lt;= 97.765<tspan x="2959" dy="15">samples = 7</tspan><tspan x="2959" dy="15">value = [2, 5]</tspan></text></g>
<g id="n97" class="nd"><rect x="3239" y="626.4" width="94" height="53" fill="#eb9d65"/><text x="3286" y="642.6">Age &lt;= 22.75<tspan x="3286" dy="15">samples = 11</tspan><tspan x="3286" dy="15">value = [9, 2]</tspan></text></g>
<g id="n98" class="nd"><rect x="3406" y="626.4" width="102" height="53" fill="#fbeade"/><text x="3457" y="642.6">Fare &lt;= 12.848<tspan x="3457" dy="15">samples = 11</tspan><tspan x="3457" dy="15">value = [6, 5]</tspan></text></g>
<g id="n99" class="nd"><rect x="3685" y="626.4" width="92" height="53" class="w"/><text x="3731" y="642.6">Age &lt;= 22.0<tspan x="3731" dy="15">samples = 4</tspan><tspan x="3731" dy="15">value = [2, 2]</tspan></text></g>
<g id="n100" class="nd"><rect x="3794.5" y="626.4" width="111" height="53" fill="#e78d4c"/><text x="3850" y="642.6">Age &lt;= 9.5<tspan x="3850" dy="15">samples = 140</tspan><tspan x="3850" dy="15">value = [128, 12]</tspan></text></g>
<g id="n101" class="nd"><rect x="4162" y="634.1" width="92" height="37.6" class="b"/><text x="4208" y="650.1">samples = 1<tspan x="4208" dy="15">value = [0, 1]</tspan></text></g>
<g id="n102" class="nd"><rect x="4311" y="626.4" width="94" height="53" fill="#f8e0ce"/><text x="4358" y="642.6">Fare &lt;= 11.75<tspan x="4358" dy="15">samples = 14</tspan><tspan x="4358" dy="15">value = [8, 6]</tspan></text></g>
<g id="n103" class="nd"><rect x="4603" y="626.4" width="92" height="53" fill="#9ccef2"/><text x="4649" y="642.6">SibSp &lt;= 1.0<tspan x="4649" dy="15">samples = 3</tspan><tspan x="4649" dy="15">value = [1, 2]</tspan></text></g>
<g id="n104" class="nd"><rect x="4768" y="626.4" width="98" height="53" fill="#e89152"/><text x="4817" y="642.6">Age &lt;= 44.5<tspan x="4817" dy="15">samples = 18</tspan><tspan x="4817" dy="15">value = [16, 2]</tspan></text></g>
<g id="n105" class="nd"><rect x="172" y="723.1" width="92" height="37.6" class="b"/><text x="218" y="739.1">samples = 5<tspan x="218" dy="15">value = [0, 5]</tspan></text></g>
<g id="n106" class="nd"><rect x="282" y="715.4" width="102" height="53" fill="#f2c09c"/><text x="333" y="731.6">Fare &lt;= 17.429<tspan x="333" dy="15">samples = 3</tspan><tspan x="333" dy="15">value = [2, 1]</tspan></text></g>
<g id="n107" class="nd"><rect x="1088.5" y="715.4" width="105" height="53" fill="#f2c09c"/><text x="1141" y="731.6">Age &lt;= 36.5<tspan x="1141" dy="15">samples = 33</tspan><tspan x="1141" dy="15">value = [22, 11]</tspan></text></g>
<g id="n108" class="nd"><rect x="1212" y="723.1" width="92" height="37.6" class="b"/><text x="1258" y="739.1">samples = 1<tspan x="1258" dy="15">value = [0, 1]</tspan></text></g>
<g id="n109" class="nd"><rect x="2194" y="723.1" width="92" height="37.6" class="o"/><text x="2240" y="739.1">samples = 3<tspan x="2240" dy="15">value = [3, 0]</tspan></text></g>
<g id="n110" class="nd"><rect x="2304.5" y="715.4" width="105" height="53" fill="#f1f8fd"/><text x="2357" y="731.6">Age &lt;= 39.0<tspan x="2357" dy="15">samples = 27</tspan><tspan x="2357" dy="15">value = [13, 14]</tspan></text></g>
<g id="n111" class="nd"><rect x="2428" y="715.4" width="92" height="53" class="w"/><text x="2474" y="731.6">Age &lt;= 49.0<tspan x="2474" dy="15">samples = 4</tspan><tspan x="2474" dy="15">value = [2, 2]</tspan></text></g>
<g id="n112" class="nd"><rect x="2538" y="723.1" width="92" height="37.6" class="o"/><text x="2584" y="739.1">samples = 3<tspan x="2584" dy="15">value = [3, 0]</tspan></text></g>
<g id="n113" class="nd"><rect x="2648" y="723.1" width="92" height="37.6" class="o"/><text x="2694" y="739.1">samples = 8<tspan x="2694" dy="15">value = [8, 0]</tspan></text></g>
<g id="n114" class="nd"><rect x="2758" y="715.4" width="92" height="53" fill="#e99355"/><text x="2804" y="731.6">Age &lt;= 57.0<tspan x="2804" dy="15">samples = 8</tspan><tspan x="2804" dy="15">value = [7, 1]</tspan></text></g>
<g id="n115" class="nd"><rect x="2868" y="723.1" width="92" height="37.6" class="b"/><text x="2914" y="739.1">samples = 4<tspan x="2914" dy="15">value = [0, 4]</tspan></text></g>
<g id="n116" class="nd"><rect x="2978" y="715.4" width="130" height="53" fill="#f2c09c"/><text x="3043" y="731.6">Embarked_C &lt;= 0.5<tspan x="3043" dy="15">samples = 3</tspan><tspan x="3043" dy="15">value = [2, 1]</tspan></text></g>
<g id="n117" class="nd"><rect x="3127" y="715.4" width="94" height="53" fill="#f2c09c"/><text x="3174" y="731.6">Fare &lt;= 7.227<tspan x="3174" dy="15">samples = 6</tspan><tspan x="3174" dy="15">value = [4, 2]</tspan></text></g>
<g id="n118" class="nd"><rect x="3240" y="723.1" width="92" height="37.6" class="o"/><text x="3286" y="739.1">samples = 5<tspan x="3286" dy="15">value = [5, 0]</tspan></text></g>
<g id="n119" class="nd"><rect x="3350" y="723.1" width="92" height="37.6" class="b"/><text x="3396" y="739.1">samples = 3<tspan x="3396" dy="15">value = [0, 3]</tspan></text></g>
<g id="n120" class="nd"><rect x="3460" y="715.4" width="102" height="53" fill="#eeab7b"/><text x="3511" y="731.6">Fare &lt;= 21.394<tspan x="3511" dy="15">samples = 8</tspan><tspan x="3511" dy="15">value = [6, 2]</tspan></text></g>
<g id="n121" class="nd"><rect x="3580" y="723.1" width="92" height="37.6" class="o"/><text x="3626" y="739.1">samples = 2<tspan x="3626" dy="15">value = [2, 0]</tspan></text></g>
<g id="n122" class="nd"><rect x="3690" y="723.1" width="92" height="37.6" class="b"/><text x="3736" y="739.1">samples = 2<tspan x="3736" dy="15">value = [0, 2]</tspan></text></g>
<g id="n123" class="nd"><rect x="3800" y="715.4" width="92" height="53" fill="#f6d5bd"/><text x="3846" y="731.6">SibSp &lt;= 2.5<tspan x="3846" dy="15">samples = 5</tspan><tspan x="3846" dy="15">value = [3, 2]</tspan></text></g>
<g id="n124" class="nd"><rect x="3910" y="715.4" width="112" height="53" fill="#e78b49"/><text x="3966" y="731.6">Fare &lt;= 9.673<tspan x="3966" dy="15">samples = 135</tspan><tspan x="3966" dy="15">value = [125, 10]</tspan></text></g>
<g id="n125" class="nd"><rect x="4311" y="715.4" width="94" height="53" fill="#efb388"/><text x="4358" y="731.6">Fare &lt;= 8.144<tspan x="4358" dy="15">samples = 7</tspan><tspan x="4358" dy="15">value = [5, 2]</tspan></text></g>
<g id="n126" class="nd"><rect x="4438" y="715.4" width="92" height="53" fill="#cee6f8"/><text x="4484" y="731.6">SibSp &lt;= 0.5<tspan x="4484" dy="15">samples = 7</tspan><tspan x="4484" dy="15">value = [3, 4]</tspan></text></g>
<g id="n127" class="nd"><rect x="4548" y="723.1" width="92" height="37.6" class="b"/><text x="4594" y="739.1">samples = 2<tspan x="4594" dy="15">value = [0, 2]</tspan></text></g>
<g id="n128" class="nd"><rect x="4658" y="723.1" width="92" height="37.6" class="o"/><text x="4704" y="739.1">samples = 1<tspan x="4704" dy="15">value = [1, 0]</tspan></text></g>
<g id="n129" class="nd"><rect x="4768" y="723.1" width="98" height="37.6" class="o"/><text x="4817" y="739.1">samples = 11<tspan x="4817" dy="15">value = [11, 0]</tspan></text></g>
<g id="n130" class="nd"><rect x="4884" y="715.4" width="92" height="53" fill="#efb388"/><text x="4930" y="731.6">Age &lt;= 46.0<tspan x="4930" dy="15">samples = 7</tspan><tspan x="4930" dy="15">value = [5, 2]</tspan></text></g>
<g id="n131" class="nd"><rect x="232" y="812" width="92" height="37.6" class="b"/><text x="278" y="828">samples = 1<tspan x="278" dy="15">value = [0, 1]</tspan></text></g>
<g id="n132" class="nd"><rect x="342" y="812" width="92" height="37.6" class="o"/><text x="388" y="828">samples = 2<tspan x="388" dy="15">value = [2, 0]</tspan></text></g>
<g id="n133" class="nd"><rect x="1030.5" y="804.3" width="105" height="53" fill="#f4caac"/><text x="1083" y="820.5">Fare &lt;= 17.6<tspan x="1083" dy="15">samples = 30</tspan><tspan x="1083" dy="15">value = [19, 11]</tspan></text></g>
<g id="n134" class="nd"><rect x="1154" y="812" width="92" height="37.6" class="o"/><text x="1200" y="828">samples = 3<tspan x="1200" dy="15">value = [3, 0]</tspan></text></g>
<g id="n135" class="nd"><rect x="2185" y="804.3" width="108" height="53" fill="#fdf5f0"/><text x="2239" y="820.5">Fare &lt;= 379.925<tspan x="2239" dy="15">samples = 25</tspan><tspan x="2239" dy="15">value = [13, 12]</tspan></text></g>
<g id="n136" class="nd"><rect x="2312" y="812" width="92" height="37.6" class="b"/><text x="2358" y="828">samples = 2<tspan x="2358" dy="15">value = [0, 2]</tspan></text></g>
<g id="n137" class="nd"><rect x="2423" y="804.3" width="102" height="53" fill="#f2c09c"/><text x="2474" y="820.5">Fare &lt;= 26.069<tspan x="2474" dy="15">samples = 3</tspan><tspan x="2474" dy="15">value = [2, 1]</tspan></text></g>
<g id="n138" class="nd"><rect x="2543" y="812" width="92" height="37.6" class="b"/><text x="2589" y="828">samples = 1<tspan x="2589" dy="15">value = [0, 1]</tspan></text></g>
<g id="n139" class="nd"><rect x="2662" y="804.3" width="94" height="53" fill="#eeab7b"/><text x="2709" y="820.5">Fare &lt;= 48.44<tspan x="2709" dy="15">samples = 4</tspan><tspan x="2709" dy="15">value = [3, 1]</tspan></text></g>
<g id="n140" class="nd"><rect x="2775" y="812" width="92" height="37.6" class="o"/><text x="2821" y="828">samples = 4<tspan x="2821" dy="15">value = [4, 0]</tspan></text></g>
<g id="n141" class="nd"><rect x="2889" y="812" width="92" height="37.6" class="b"/><text x="2935" y="828">samples = 1<tspan x="2935" dy="15">value = [0, 1]</tspan></text></g>
<g id="n142" class="nd"><rect x="2999" y="812" width="92" height="37.6" class="o"/><text x="3045" y="828">samples = 2<tspan x="3045" dy="15">value = [2, 0]</tspan></text></g>
<g id="n143" class="nd"><rect x="3113" y="812" width="92" height="37.6" class="b"/><text x="3159" y="828">samples = 1<tspan x="3159" dy="15">value = [0, 1]</tspan></text></g>
<g id="n144" class="nd"><rect x="3223" y="804.3" width="92" height="53" fill="#eca06a"/><text x="3269" y="820.5">Age &lt;= 18.5<tspan x="3269" dy="15">samples = 5</tspan><tspan x="3269" dy="15">value = [4, 1]</tspan></text></g>
<g id="n145" class="nd"><rect x="3397" y="804.3" width="102" height="53" fill="#f6d5bd"/><text x="3448" y="820.5">Fare &lt;= 15.394<tspan x="3448" dy="15">samples = 5</tspan><tspan x="3448" dy="15">value = [3, 2]</tspan></text></g>
<g id="n146" class="nd"><rect x="3517" y="812" width="92" height="37.6" class="o"/><text x="3563" y="828">samples = 3<tspan x="3563" dy="15">value = [3, 0]</tspan></text></g>
<g id="n147" class="nd"><rect x="3689" y="812" width="92" height="37.6" class="b"/><text x="3735" y="828">samples = 2<tspan x="3735" dy="15">value = [0, 2]</tspan></text></g>
<g id="n148" class="nd"><rect x="3799" y="812" width="92" height="37.6" class="o"/><text x="3845" y="828">samples = 3<tspan x="3845" dy="15">value = [3, 0]</tspan></text></g>
<g id="n149" class="nd"><rect x="3909" y="804.3" width="98" height="53" fill="#e88f4f"/><text x="3958" y="820.5">Age &lt;= 26.5<tspan x="3958" dy="15">samples = 89</tspan><tspan x="3958" dy="15">value = [80, 9]</tspan></text></g>
<g id="n150" class="nd"><rect x="4024.5" y="804.3" width="102" height="53" fill="#e6843d"/><text x="4075.5" y="820.5">Fare &lt;= 51.698<tspan x="4075.5" dy="15">samples = 46</tspan><tspan x="4075.5" dy="15">value = [45, 1]</tspan></text></g>
<g id="n151" class="nd"><rect x="4260" y="804.3" width="92" height="53" fill="#f6d5bd"/><text x="4306" y="820.5">Age &lt;= 31.5<tspan x="4306" dy="15">samples = 5</tspan><tspan x="4306" dy="15">value = [3, 2]</tspan></text></g>
<g id="n152" class="nd"><rect x="4370" y="812" width="92" height="37.6" class="o"/><text x="4416" y="828">samples = 2<tspan x="4416" dy="15">value = [2, 0]</tspan></text></g>
<g id="n153" class="nd"><rect x="4479" y="812" width="92" height="37.6" class="b"/><text x="4525" y="828">samples = 3<tspan x="4525" dy="15">value = [0, 3]</tspan></text></g>
<g id="n154" class="nd"><rect x="4589.5" y="804.3" width="102" height="53" fill="#eeab7b"/><text x="4640.5" y="820.5">Fare &lt;= 31.502<tspan x="4640.5" dy="15">samples = 4</tspan><tspan x="4640.5" dy="15">value = [3, 1]</tspan></text></g>
<g id="n155" class="nd"><rect x="4800" y="812" width="92" height="37.6" class="b"/><text x="4846" y="828">samples = 1<tspan x="4846" dy="15">value = [0, 1]</tspan></text></g>
<g id="n156" class="nd"><rect x="4909.5" y="804.3" width="92" height="53" fill="#ea9a61"/><text x="4955.5" y="820.5">Age &lt;= 56.5<tspan x="4955.5" dy="15">samples = 6</tspan><tspan x="4955.5" dy="15">value = [5, 1]</tspan></text></g>
<g id="n157" class="nd"><rect x="972.5" y="893.2" width="105" height="53" fill="#f7d8c1"/><text x="1025" y="909.4">Age &lt;= 33.5<tspan x="1025" dy="15">samples = 27</tspan><tspan x="1025" dy="15">value = [16, 11]</tspan></text></g>
<g id="n158" class="nd"><rect x="1096" y="900.9" width="92" height="37.6" class="o"/><text x="1142" y="916.9">samples = 3<tspan x="1142" dy="15">value = [3, 0]</tspan></text></g>
<g id="n159" class="nd"><rect x="2132" y="893.2" width="108" height="53" fill="#f9e2d1"/><text x="2186" y="909.4">Fare &lt;= 136.731<tspan x="2186" dy="15">samples = 23</tspan><tspan x="2186" dy="15">value = [13, 10]</tspan></text></g>
<g id="n160" class="nd"><rect x="2259" y="900.9" width="92" height="37.6" class="b"/><text x="2305" y="916.9">samples = 2<tspan x="2305" dy="15">value = [0, 2]</tspan></text></g>
<g id="n161" class="nd"><rect x="2371" y="900.9" width="92" height="37.6" class="o"/><text x="2417" y="916.9">samples = 1<tspan x="2417" dy="15">value = [1, 0]</tspan></text></g>
<g id="n162" class="nd"><rect x="2481" y="900.9" width="92" height="37.6" class="w"/><text x="2527" y="916.9">samples = 2<tspan x="2527" dy="15">value = [1, 1]</tspan></text></g>
<g id="n163" class="nd"><rect x="2651" y="893.2" width="102" height="53" class="w"/><text x="2702" y="909.4">Fare &lt;= 33.098<tspan x="2702" dy="15">samples = 2</tspan><tspan x="2702" dy="15">value = [1, 1]</tspan></text></g>
<g id="n164" class="nd"><rect x="2771" y="900.9" width="92" height="37.6" class="o"/><text x="2817" y="916.9">samples = 2<tspan x="2817" dy="15">value = [2, 0]</tspan></text></g>
<g id="n165" class="nd"><rect x="3114" y="900.9" width="92" height="37.6" class="o"/><text x="3160" y="916.9">samples = 2<tspan x="3160" dy="15">value = [2, 0]</tspan></text></g>
<g id="n166" class="nd"><rect x="3224" y="893.2" width="92" height="53" fill="#f2c09c"/><text x="3270" y="909.4">Age &lt;= 20.5<tspan x="3270" dy="15">samples = 3</tspan><tspan x="3270" dy="15">value = [2, 1]</tspan></text></g>
<g id="n167" class="nd"><rect x="3345" y="900.9" width="92" height="37.6" class="o"/><text x="3391" y="916.9">samples = 2<tspan x="3391" dy="15">value = [2, 0]</tspan></text></g>
<g id="n168" class="nd"><rect x="3454" y="893.2" width="92" height="53" fill="#9ccef2"/><text x="3500" y="909.4">Age &lt;= 15.5<tspan x="3500" dy="15">samples = 3</tspan><tspan x="3500" dy="15">value = [1, 2]</tspan></text></g>
<g id="n169" class="nd"><rect x="3690" y="893.2" width="98" height="53" fill="#e78c4b"/><text x="3739" y="909.4">Fare &lt;= 8.175<tspan x="3739" dy="15">samples = 72</tspan><tspan x="3739" dy="15">value = [66, 6]</tspan></text></g>
<g id="n170" class="nd"><rect x="3909" y="893.2" width="98" height="53" fill="#eb9c63"/><text x="3958" y="909.4">Age &lt;= 27.5<tspan x="3958" dy="15">samples = 17</tspan><tspan x="3958" dy="15">value = [14, 3]</tspan></text></g>
<g id="n171" class="nd"><rect x="4025" y="900.9" width="98" height="37.6" class="o"/><text x="4074" y="916.9">samples = 41<tspan x="4074" dy="15">value = [41, 0]</tspan></text></g>
<g id="n172" class="nd"><rect x="4140.5" y="893.2" width="102" height="53" fill="#eca06a"/><text x="4191.5" y="909.4">Fare &lt;= 64.998<tspan x="4191.5" dy="15">samples = 5</tspan><tspan x="4191.5" dy="15">value = [4, 1]</tspan></text></g>
<g id="n173" class="nd"><rect x="4260" y="900.9" width="92" height="37.6" class="b"/><text x="4306" y="916.9">samples = 1<tspan x="4306" dy="15">value = [0, 1]</tspan></text></g>
<g id="n174" class="nd"><rect x="4371" y="893.2" width="92" height="53" fill="#eeab7b"/><text x="4417" y="909.4">Fare &lt;= 7.91<tspan x="4417" dy="15">samples = 4</tspan><tspan x="4417" dy="15">value = [3, 1]</tspan></text></g>
<g id="n175" class="nd"><rect x="4590" y="893.2" width="92" height="53" class="w"/><text x="4636" y="909.4">Pclass &lt;= 2.5<tspan x="4636" dy="15">samples = 2</tspan><tspan x="4636" dy="15">value = [1, 1]</tspan></text></g>
<g id="n176" class="nd"><rect x="4700" y="900.9" width="92" height="37.6" class="o"/><text x="4746" y="916.9">samples = 2<tspan x="4746" dy="15">value = [2, 0]</tspan></text></g>
<g id="n177" class="nd"><rect x="4813" y="900.9" width="92" height="37.6" class="o"/><text x="4859" y="916.9">samples = 3<tspan x="4859" dy="15">value = [3, 0]</tspan></text></g>
<g id="n178" class="nd"><rect x="4923" y="893.2" width="92" height="53" fill="#f2c09c"/><text x="4969" y="909.4">Age &lt;= 64.0<tspan x="4969" dy="15">samples = 3</tspan><tspan x="4969" dy="15">value = [2, 1]</tspan></text></g>
<g id="n179" class="nd"><rect x="914.5" y="982.2" width="105" height="53" fill="#f5d0b5"/><text x="967" y="998.4">Age &lt;= 19.5<tspan x="967" dy="15">samples = 26</tspan><tspan x="967" dy="15">value = [16, 10]</tspan></text></g>
<g id="n180" class="nd"><rect x="1038" y="989.9" width="92" height="37.6" class="b"/><text x="1084" y="1005.9">samples = 1<tspan x="1084" dy="15">value = [0, 1]</tspan></text></g>
<g id="n181" class="nd"><rect x="2076" y="982.2" width="104" height="53" class="w"/><text x="2128" y="998.4">Parch &lt;= 0.5<tspan x="2128" dy="15">samples = 20</tspan><tspan x="2128" dy="15">value = [10, 10]</tspan></text></g>
<g id="n182" class="nd"><rect x="2199" y="989.9" width="92" height="37.6" class="o"/><text x="2245" y="1005.9">samples = 3<tspan x="2245" dy="15">value = [3, 0]</tspan></text></g>
<g id="n183" class="nd"><rect x="2601" y="989.9" width="92" height="37.6" class="o"/><text x="2647" y="1005.9">samples = 1<tspan x="2647" dy="15">value = [1, 0]</tspan></text></g>
<g id="n184" class="nd"><rect x="2711" y="989.9" width="92" height="37.6" class="b"/><text x="2757" y="1005.9">samples = 1<tspan x="2757" dy="15">value = [0, 1]</tspan></text></g>
<g id="n185" class="nd"><rect x="3121" y="989.9" width="92" height="37.6" class="b"/><text x="3167" y="1005.9">samples = 1<tspan x="3167" dy="15">value = [0, 1]</tspan></text></g>
<g id="n186" class="nd"><rect x="3231" y="989.9" width="92" height="37.6" class="o"/><text x="3277" y="1005.9">samples = 2<tspan x="3277" dy="15">value = [2, 0]</tspan></text></g>
<g id="n187" class="nd"><rect x="3346" y="989.9" width="92" height="37.6" class="o"/><text x="3392" y="1005.9">samples = 1<tspan x="3392" dy="15">value = [1, 0]</tspan></text></g>
<g id="n188" class="nd"><rect x="3456" y="989.9" width="92" height="37.6" class="b"/><text x="3502" y="1005.9">samples = 2<tspan x="3502" dy="15">value = [0, 2]</tspan></text></g>
<g id="n189" class="nd"><rect x="3574" y="982.2" width="98" height="53" fill="#e89050"/><text x="3623" y="998.4">Fare &lt;= 7.988<tspan x="3623" dy="15">samples = 57</tspan><tspan x="3623" dy="15">value = [51, 6]</tspan></text></g>
<g id="n190" class="nd"><rect x="3690" y="989.9" width="98" height="37.6" class="o"/><text x="3739" y="1005.9">samples = 15<tspan x="3739" dy="15">value = [15, 0]</tspan></text></g>
<g id="n191" class="nd"><rect x="3807" y="982.2" width="94" height="53" fill="#9ccef2"/><text x="3854" y="998.4">Fare &lt;= 7.846<tspan x="3854" dy="15">samples = 3</tspan><tspan x="3854" dy="15">value = [1, 2]</tspan></text></g>
<g id="n192" class="nd"><rect x="3920" y="982.2" width="98" height="53" fill="#e78b48"/><text x="3969" y="998.4">Fare &lt;= 9.492<tspan x="3969" dy="15">samples = 14</tspan><tspan x="3969" dy="15">value = [13, 1]</tspan></text></g>
<g id="n193" class="nd"><rect x="4146" y="982.2" width="92" height="53" class="w"/><text x="4192" y="998.4">Age &lt;= 27.0<tspan x="4192" dy="15">samples = 2</tspan><tspan x="4192" dy="15">value = [1, 1]</tspan></text></g>
<g id="n194" class="nd"><rect x="4256" y="989.9" width="92" height="37.6" class="o"/><text x="4302" y="1005.9">samples = 3<tspan x="4302" dy="15">value = [3, 0]</tspan></text></g>
<g id="n195" class="nd"><rect x="4367" y="989.9" width="92" height="37.6" class="o"/><text x="4413" y="1005.9">samples = 1<tspan x="4413" dy="15">value = [1, 0]</tspan></text></g>
<g id="n196" class="nd"><rect x="4477" y="989.9" width="92" height="37.6" fill="#f2c09c"/><text x="4523" y="1005.9">samples = 3<tspan x="4523" dy="15">value = [2, 1]</tspan></text></g>
<g id="n197" class="nd"><rect x="4589" y="989.9" width="92" height="37.6" class="b"/><text x="4635" y="1005.9">samples = 1<tspan x="4635" dy="15">value = [0, 1]</tspan></text></g>
<g id="n198" class="nd"><rect x="4699" y="989.9" width="92" height="37.6" class="o"/><text x="4745" y="1005.9">samples = 1<tspan x="4745" dy="15">value = [1, 0]</tspan></text></g>
<g id="n199" class="nd"><rect x="4868" y="989.9" width="92" height="37.6" class="b"/><text x="4914" y="1005.9">samples = 1<tspan x="4914" dy="15">value = [0, 1]</tspan></text></g>
<g id="n200" class="nd"><rect x="4978" y="989.9" width="92" height="37.6" class="o"/><text x="5024" y="1005.9">samples = 2<tspan x="5024" dy="15">value = [2, 0]</tspan></text></g>
<g id="n201" class="nd"><rect x="865" y="1071.1" width="92" height="53" fill="#bddef6"/><text x="911" y="1087.3">Age &lt;= 18.5<tspan x="911" dy="15">samples = 5</tspan><tspan x="911" dy="15">value = [2, 3]</tspan></text></g>
<g id="n202" class="nd"><rect x="975" y="1071.1" width="98" height="53" fill="#f2c09c"/><text x="1024" y="1087.3">Age &lt;= 21.5<tspan x="1024" dy="15">samples = 21</tspan><tspan x="1024" dy="15">value = [14, 7]</tspan></text></g>
<g id="n203" class="nd"><rect x="2019" y="1071.1" width="102" height="53" fill="#f7d9c4"/><text x="2070" y="1087.3">Fare &lt;= 86.085<tspan x="2070" dy="15">samples = 17</tspan><tspan x="2070" dy="15">value = [10, 7]</tspan></text></g>
<g id="n204" class="nd"><rect x="2140" y="1078.8" width="92" height="37.6" class="b"/><text x="2186" y="1094.8">samples = 3<tspan x="2186" dy="15">value = [0, 3]</tspan></text></g>
<g id="n205" class="nd"><rect x="3461" y="1071.1" width="98" height="53" fill="#e78a47"/><text x="3510" y="1087.3">Fare &lt;= 7.825<tspan x="3510" dy="15">samples = 44</tspan><tspan x="3510" dy="15">value = [41, 3]</tspan></text></g>
<g id="n206" class="nd"><rect x="3577" y="1071.1" width="98" height="53" fill="#eda774"/><text x="3626" y="1087.3">Age &lt;= 19.5<tspan x="3626" dy="15">samples = 13</tspan><tspan x="3626" dy="15">value = [10, 3]</tspan></text></g>
<g id="n207" class="nd"><rect x="3696" y="1078.8" width="92" height="37.6" class="b"/><text x="3742" y="1094.8">samples = 1<tspan x="3742" dy="15">value = [0, 1]</tspan></text></g>
<g id="n208" class="nd"><rect x="3807" y="1071.1" width="94" height="53" class="w"/><text x="3854" y="1087.3">Fare &lt;= 8.279<tspan x="3854" dy="15">samples = 2</tspan><tspan x="3854" dy="15">value = [1, 1]</tspan></text></g>
<g id="n209" class="nd"><rect x="3920" y="1078.8" width="98" height="37.6" class="o"/><text x="3969" y="1094.8">samples = 11<tspan x="3969" dy="15">value = [11, 0]</tspan></text></g>
<g id="n210" class="nd"><rect x="4036" y="1071.1" width="92" height="53" fill="#f2c09c"/><text x="4082" y="1087.3">Age &lt;= 28.5<tspan x="4082" dy="15">samples = 3</tspan><tspan x="4082" dy="15">value = [2, 1]</tspan></text></g>
<g id="n211" class="nd"><rect x="4146" y="1078.8" width="92" height="37.6" class="b"/><text x="4192" y="1094.8">samples = 1<tspan x="4192" dy="15">value = [0, 1]</tspan></text></g>
<g id="n212" class="nd"><rect x="4256" y="1078.8" width="92" height="37.6" class="o"/><text x="4302" y="1094.8">samples = 1<tspan x="4302" dy="15">value = [1, 0]</tspan></text></g>
<g id="n213" class="nd"><rect x="756" y="1160.2" width="92" height="37.6" fill="#f2c09c"/><text x="802" y="1176.2">samples = 3<tspan x="802" dy="15">value = [2, 1]</tspan></text></g>
<g id="n214" class="nd"><rect x="866" y="1160.2" width="92" height="37.6" class="b"/><text x="912" y="1176.2">samples = 2<tspan x="912" dy="15">value = [0, 2]</tspan></text></g>
<g id="n215" class="nd"><rect x="977" y="1160.2" width="92" height="37.6" class="o"/><text x="1023" y="1176.2">samples = 4<tspan x="1023" dy="15">value = [4, 0]</tspan></text></g>
<g id="n216" class="nd"><rect x="1087" y="1160.2" width="98" height="37.6" fill="#f7d9c4"/><text x="1136" y="1176.2">samples = 17<tspan x="1136" dy="15">value = [10, 7]</tspan></text></g>
<g id="n217" class="nd"><rect x="1965.5" y="1160.2" width="98" height="37.6" fill="#f2c09c"/><text x="2014.5" y="1176.2">samples = 15<tspan x="2014.5" dy="15">value = [10, 5]</tspan></text></g>
<g id="n218" class="nd"><rect x="2082" y="1160.2" width="92" height="37.6" class="b"/><text x="2128" y="1176.2">samples = 2<tspan x="2128" dy="15">value = [0, 2]</tspan></text></g>
<g id="n219" class="nd"><rect x="3346" y="1160.2" width="98" height="37.6" fill="#e89152"/><text x="3395" y="1176.2">samples = 27<tspan x="3395" dy="15">value = [24, 3]</tspan></text></g>
<g id="n220" class="nd"><rect x="3462" y="1160.2" width="98" height="37.6" class="o"/><text x="3511" y="1176.2">samples = 17<tspan x="3511" dy="15">value = [17, 0]</tspan></text></g>
<g id="n221" class="nd"><rect x="3578.5" y="1160.2" width="92" height="37.6" fill="#bddef6"/><text x="3624.5" y="1176.2">samples = 5<tspan x="3624.5" dy="15">value = [2, 3]</tspan></text></g>
<g id="n222" class="nd"><rect x="3689" y="1160.2" width="92" height="37.6" class="o"/><text x="3735" y="1176.2">samples = 8<tspan x="3735" dy="15">value = [8, 0]</tspan></text></g>
<g id="n223" class="nd"><rect x="3804" y="1160.2" width="92" height="37.6" class="o"/><text x="3850" y="1176.2">samples = 1<tspan x="3850" dy="15">value = [1, 0]</tspan></text></g>
<g id="n224" class="nd"><rect x="3914" y="1160.2" width="92" height="37.6" class="b"/><text x="3960" y="1176.2">samples = 1<tspan x="3960" dy="15">value = [0, 1]</tspan></text></g>
<g id="n225" class="nd"><rect x="4030" y="1160.2" width="92" height="37.6" class="o"/><text x="4076" y="1176.2">samples = 2<tspan x="4076" dy="15">value = [2, 0]</tspan></text></g>
<g id="n226" class="nd"><rect x="4140" y="1160.2" width="92" height="37.6" class="b"/><text x="4186" y="1176.2">samples = 1<tspan x="4186" dy="15">value = [0, 1]</tspan></text></g>
</g>
</svg>
